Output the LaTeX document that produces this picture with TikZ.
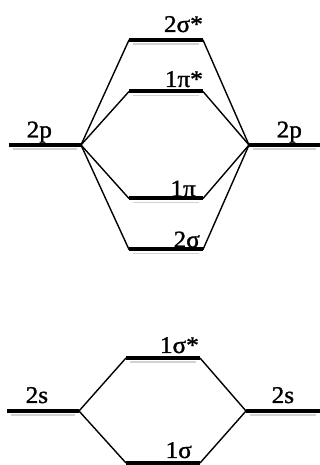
\documentclass[tikz,border=0pt]{standalone}
\usepackage{fontspec}
\setmainfont[FakeStretch=1.05,FakeBold=1.2]{Liberation Serif}
\begin{document}
\begin{tikzpicture}[x=1pt,y=1pt,
  level/.style={line width=4pt},
  shadow/.style={line width=1.4pt,gray!35},
  link/.style={line width=1.4pt,line cap=round},
  lbl/.style={inner sep=0pt,font=\fontsize{24}{26}\selectfont}]
\useasboundingbox (0,0) rectangle (320,465);
% top section coordinates
\coordinate (pLa) at (9,320);   \coordinate (pLb) at (81,320);
\coordinate (pRa) at (249,320); \coordinate (pRb) at (320,320);
\coordinate (ssa) at (129,425); \coordinate (ssb) at (203,425);
\coordinate (ppa) at (129,373.5); \coordinate (ppb) at (203,373.5);
\coordinate (pia) at (129,266.5); \coordinate (pib) at (203,266.5);
\coordinate (sga) at (129,215.5); \coordinate (sgb) at (203,215.5);
% bottom section coordinates
\coordinate (sLa) at (7,54);    \coordinate (sLb) at (79,54);
\coordinate (sRa) at (246,54);  \coordinate (sRb) at (320,54);
\coordinate (oSa) at (126,107); \coordinate (oSb) at (200,107);
\coordinate (oa) at (126,2);    \coordinate (ob) at (200,2);
% shadows
\foreach \a/\b in {pLa/pLb,pRa/pRb,ssa/ssb,ppa/ppb,pia/pib,sga/sgb,sLa/sLb,sRa/sRb,oSa/oSb}
  \draw[shadow] ([shift={(4,-4)}]\a) -- ([shift={(-4,-4)}]\b);
% levels
\foreach \a/\b in {pLa/pLb,pRa/pRb,ssa/ssb,ppa/ppb,pia/pib,sga/sgb,sLa/sLb,sRa/sRb,oSa/oSb,oa/ob}
  \draw[level] (\a) -- (\b);
% connectors
\foreach \t in {ssa,ppa,pia,sga} \draw[link] (pLb) -- (\t);
\foreach \t in {ssb,ppb,pib,sgb} \draw[link] (\t) -- (pRa);
\foreach \t in {oSa,oa} \draw[link] (sLb) -- (\t);
\foreach \t in {oSb,ob} \draw[link] (\t) -- (sRa);
% labels
\node[lbl,anchor=base east] (l1) at (203,433) {2σ*};
\node[lbl,anchor=base east] (l2) at (203,378) {1π*};
\node[lbl,anchor=base west] (l3) at (26.5,327.5) {2p};
\node[lbl,anchor=base west] (l4) at (276.5,327.5) {2p};
\node[lbl,anchor=base east] (l5) at (196,268.5) {1π};
\node[lbl,anchor=base east] (l6) at (200,217.5) {2σ};
\node[lbl,anchor=base east] (l7) at (199,112) {1σ*};
\node[lbl,anchor=base west] (l8) at (25.5,62) {2s};
\node[lbl,anchor=base west] (l9) at (271.5,62) {2s};
\node[lbl,anchor=base east] (l10) at (192,7) {1σ};
\end{tikzpicture}
\end{document}
